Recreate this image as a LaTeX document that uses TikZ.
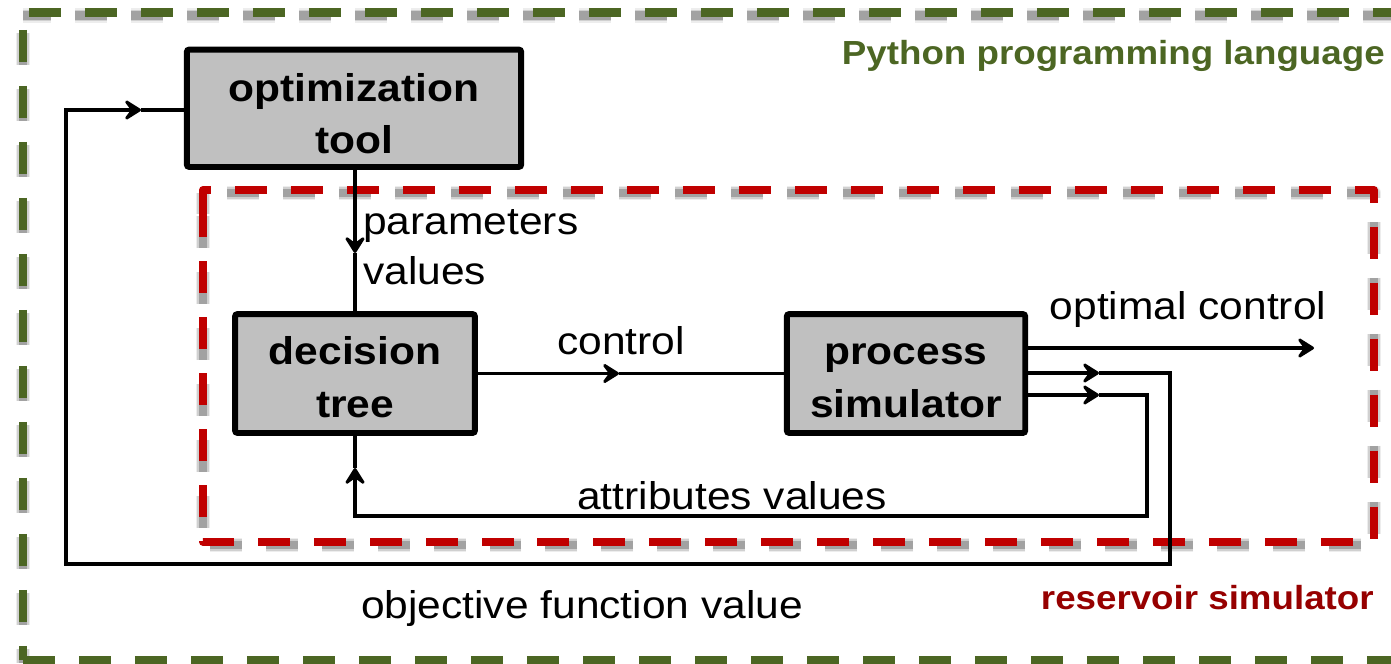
\documentclass[tikz,border=0pt]{standalone}
\usepackage{fontspec}
\setmainfont{Liberation Sans}[FakeStretch=1.1]
\usetikzlibrary{arrows.meta}
\definecolor{frameGreen}{RGB}{76,102,35}
\definecolor{frameRed}{RGB}{192,0,0}
\definecolor{labelRed}{RGB}{150,0,0}
\definecolor{boxGray}{RGB}{192,192,192}

\begin{document}
\begin{tikzpicture}[x=0.02cm,y=-0.02cm,
  blockbox/.style={draw=black, fill=boxGray, line width=3.4pt, rounded corners=1.5pt,
    align=center, inner sep=0pt, font=\bfseries\fontsize{22}{30}\selectfont},
  conn/.style={draw=black, line width=1.8pt},
  tipped/.style={-{Stealth[length=12pt,width=15pt,inset=5.5pt,round]}},
  lbl/.style={inner sep=0pt, font=\fontsize{22}{30}\selectfont},
  framelabel/.style={inner sep=0pt, font=\bfseries\fontsize{19}{23}\selectfont},
  dashlook/.style={dash pattern=on 0.64cm off 0.48cm},
  greenline/.style={dashlook, draw=frameGreen, line width=4.6pt},
  redline/.style={dashlook, dash phase=0.06cm, draw=frameRed, line width=4.4pt, line join=round},
]
\useasboundingbox (0,0) rectangle (1391,663);
\clip (0,0) rectangle (1391,663);

% soft grey shadows under both dashed frames
\begin{scope}[shift={(0,3)}]
  \foreach \w/\o in {8.5pt/0.07, 6.5pt/0.12, 4.6pt/0.22}{
    \draw[dashlook, dash phase=1.2cm, line width=\w, draw=black, opacity=\o] (23,12.5) -- (1400,12.5);
    \draw[dashlook, dash phase=0.77cm, line width=\w, draw=black, opacity=\o] (23,12.5) -- (23,660);
    \draw[dashlook, line width=\w, draw=black, opacity=\o] (23,660) -- (1400,660);
    \draw[dashlook, dash phase=0.22cm, line width=\w, draw=black, opacity=\o, line join=round]
      (203,211) -- (203,190) -- (1374,190) -- (1374,542) -- (203,542) -- cycle;
  }
\end{scope}

% outer frame: Python environment
\draw[greenline, dash phase=1cm] (23,12.5) -- (1400,12.5);
\draw[greenline, dash phase=0.77cm] (23,12.5) -- (23,660);
\draw[greenline] (23,660) -- (1400,660);

% inner frame: reservoir simulator
\draw[redline] (203,211) -- (203,190) -- (1374,190) -- (1374,542) -- (203,542) -- cycle;

\node[framelabel, anchor=base east, text=frameGreen] (pyLbl) at (1385,64) {Python programming language};
\node[framelabel, anchor=base east, text=labelRed] (resLbl) at (1374,609) {reservoir simulator};

% blocks
\node[blockbox, minimum width=6.69cm, minimum height=2.35cm, font=\bfseries\fontsize{22}{29.5}\selectfont]
  (opt) at (354,108.25) {\rule{0pt}{21.9pt}optimization\\tool};
\node[blockbox, minimum width=4.8cm, minimum height=2.38cm]
  (dt) at (355,373.5) {\rule{0pt}{20.5pt}decision\\tree};
\node[blockbox, minimum width=4.77cm, minimum height=2.38cm]
  (ps) at (906,373.5) {\rule{0pt}{20.5pt}process\\simulator};

% connector labels
\node[lbl, anchor=west, align=left, font=\fontsize{22}{28.5}\selectfont] (parLbl) at (363,247) {parameters\\values};
\node[lbl, anchor=base] (ctlLbl) at (621,354) {control};
\node[lbl, anchor=base] (ocLbl) at (1188,319) {optimal control};
\node[lbl, anchor=base] (attLbl) at (732,509) {attributes values};
\node[lbl, anchor=base] (objLbl) at (582,618) {objective function value};

% bend points and mid-line arrow tips
\coordinate (pvTip) at (355,253);
\coordinate (ctlTip) at (619,373.5);
\coordinate (ocEnd) at (1314,348);
\coordinate (objTip) at (1099,373);
\coordinate (objA) at (1170,373);
\coordinate (objB) at (1170,564);
\coordinate (objC) at (66,564);
\coordinate (objD) at (66,110);
\coordinate (objTip2) at (141,110);
\coordinate (attTip) at (1099,395);
\coordinate (attA) at (1147,395);
\coordinate (attB) at (1147,516);
\coordinate (attC) at (355,516);
\coordinate (attTip2) at (355,468);

% parameters values
\draw[conn, tipped] (opt.south -| dt.north) -- (pvTip);
\draw[conn] (pvTip) -- (dt.north);
% control
\draw[conn, tipped] (dt.east) -- (ctlTip);
\draw[conn] (ctlTip) -- (ps.west);
% optimal control
\draw[conn, tipped] (ps.east |- ocEnd) -- (ocEnd);
% objective function value loop
\draw[conn, tipped] (ps.east |- objTip) -- (objTip);
\draw[conn, tipped] (objTip) -- (objA) -- (objB) -- (objC) -- (objD) -- (objTip2);
\draw[conn] (objTip2) -- (opt.west |- objTip2);
% attributes values loop
\draw[conn, tipped] (ps.east |- attTip) -- (attTip);
\draw[conn, tipped] (attTip) -- (attA) -- (attB) -- (attC) -- (attTip2);
\draw[conn] (attTip2) -- (dt.south);
\end{tikzpicture}
\end{document}
